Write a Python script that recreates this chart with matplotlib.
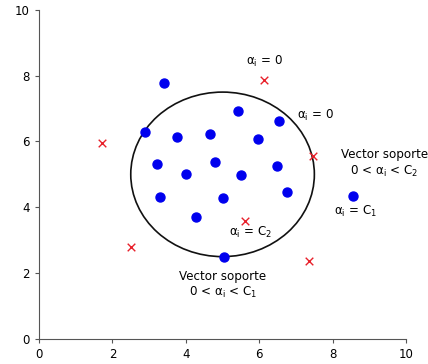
import matplotlib
matplotlib.use('Agg')
import matplotlib.pyplot as plt

plt.rcParams['mathtext.default'] = 'regular'

# Points inside / on the sphere (class 1)
blue_x = [3.41, 2.89, 3.76, 4.66, 5.42, 6.54, 5.97, 3.22, 4.00, 4.80, 5.50, 6.49, 3.30, 4.28, 5.01, 6.76, 5.04, 8.56]
blue_y = [7.78, 6.29, 6.14, 6.23, 6.93, 6.63, 6.08, 5.32, 5.02, 5.38, 4.98, 5.26, 4.32, 3.71, 4.29, 4.47, 2.49, 4.35]

# Outlier points (class 2)
red_x = [1.72, 6.13, 7.47, 2.51, 5.61, 7.36]
red_y = [5.96, 7.87, 5.56, 2.80, 3.59, 2.37]

# Sphere
center = (5.0, 5.0)
radius = 2.5

fig = plt.figure(figsize=(4.28, 3.64), dpi=100)
ax = fig.add_axes([0.091, 0.069, 0.858, 0.904])

circle = plt.Circle(center, radius, fill=False, color='#111111', lw=1.2)
ax.add_patch(circle)

ax.scatter(blue_x, blue_y, s=42, color='#0000ee', zorder=3)
ax.scatter(red_x, red_y, s=30, marker='x', color='#e8202a', linewidths=1.0, zorder=3)

fs = 8.6
ax.text(6.13, 8.42, r'$\alpha_i$ = 0', ha='center', va='center', fontsize=fs)
ax.text(7.03, 6.78, r'$\alpha_i$ = 0', ha='left', va='center', fontsize=fs)
ax.text(9.4, 5.33, 'Vector soporte\n' + r'0 < $\alpha_i$ < C$_2$', ha='center', va='center', fontsize=fs)
ax.text(8.61, 3.86, r'$\alpha_i$ = C$_1$', ha='center', va='center', fontsize=fs)
ax.text(5.75, 3.22, r'$\alpha_i$ = C$_2$', ha='center', va='center', fontsize=fs)
ax.text(5.01, 1.64, 'Vector soporte\n' + r'0 < $\alpha_i$ < C$_1$', ha='center', va='center', fontsize=fs)

ax.set_xlim(0, 10)
ax.set_ylim(0, 10)
ax.set_xticks([0, 2, 4, 6, 8, 10])
ax.set_yticks([0, 2, 4, 6, 8, 10])
ax.tick_params(labelsize=8.5, length=3, color='#555555')
for side in ['top', 'right']:
    ax.spines[side].set_visible(False)
for side in ['left', 'bottom']:
    ax.spines[side].set_color('#555555')

fig.savefig('out.png', dpi=100)
